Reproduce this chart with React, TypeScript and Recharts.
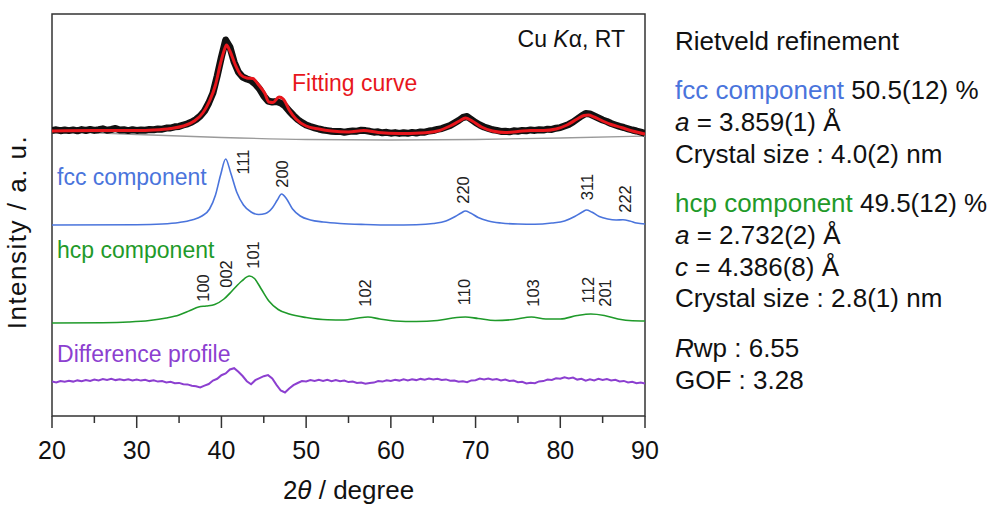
import React from 'react';
import { ComposedChart, Line, XAxis, YAxis, ReferenceDot, ReferenceArea } from 'recharts';

const W = 995;
const H = 505;
const FONT = '"Liberation Sans", Arial, Helvetica, sans-serif';

// measured scan: 2θ = 20° .. 90°, read every 0.5°
const SCAN_START = 20;
const SCAN_STEP = 0.5;

// observed intensity (a.u., relative to the pattern's baseline)
const observed = [
  0.5, 1.2, 0.3, 1.0, 0.4, 1.1, 0.2, 1.4, 0.5, 1.6,
  0.6, 1.3, 2.2, 0.8, 1.5, 2.6, 1.0, 1.2, 0.4, 1.3,
  0.6, 1.1, 0.7, 1.5, 1.2, 2.0, 1.8, 2.9, 3.0, 4.2,
  4.6, 6.0, 7.2, 9.0, 11.5, 15, 20, 28, 38, 55,
  74, 91, 84, 69, 59, 54, 52, 50.5, 47, 42,
  35, 30, 29, 29.5, 28, 25, 20, 15.5, 11.5, 8.5,
  6, 4.5, 3.2, 2.0, 1.0, 0.4, -0.2, -0.6, -0.4, -1.2,
  -0.5, 0.0, -0.2, 0.8, 0.4, -0.3, -1.2, -0.8, -1.8, -1.3,
  -2.2, -1.6, -2.4, -1.7, -2.3, -1.4, -2.0, -1.0, -1.2, 0.0,
  0.5, 1.6, 2.4, 4.0, 5.5, 8.0, 10.5, 13.5, 14.5, 11.5,
  8.5, 6.0, 4.0, 2.6, 1.2, 0.6, -0.4, -0.2, -0.8, 0.2,
  -0.2, 0.6, 0.3, 1.1, 0.6, 1.3, 0.9, 1.8, 1.6, 2.8,
  3.4, 5.0, 6.6, 9.0, 12.0, 15.0, 17.5, 17.0, 15.0, 13.0,
  11.0, 9.5, 7.5, 6.0, 4.6, 3.5, 2.2, 1.0, 0.0, -1.2,
  -2.5,
];

// observed - calculated
const difference = [
  0.5, -0.5, 1.0, 0.2, 1.3, 0.4, 1.6, 0.8, 2.0, 1.1,
  2.4, 1.6, 2.9, 2.0, 3.1, 1.9, 2.8, 1.7, 2.7, 1.5,
  2.5, 1.4, 2.2, 0.9, 1.7, 0.4, 1.0, -0.4, 0.2, -1.2,
  -0.9, -2.3, -2.4, -3.8, -4.3, -5.4, -3.6, -2.0, 1.5, 3.2,
  6.8, 8.5, 12.5, 13.8, 10.2, 6.0, 0.8, -2.2, 1.8, 3.9,
  5.8, 6.9, 3.5, -2.8, -8.5, -10.5, -6.5, -3.2, -1.0, 0.9,
  0.6, 2.0, 1.1, 2.2, 1.0, 2.1, 0.9, 2.0, 0.8, 1.4,
  -0.1, 0.5, -1.0, -0.6, -1.8, -0.9, -0.6, 0.9, 0.4, 1.8,
  1.1, 2.3, 1.4, 2.6, 1.6, 2.8, 1.9, 3.1, 2.2, 3.4,
  2.5, 3.3, 2.0, 2.6, 1.2, 1.5, 0.2, 0.8, -0.2, 1.6,
  1.8, 3.4, 2.6, 3.5, 2.2, 3.0, 1.6, 2.4, 1.0, 1.4,
  -0.2, 0.3, -1.4, -0.8, -1.2, 0.6, 0.9, 2.4, 2.1, 3.8,
  3.2, 4.8, 3.6, 4.4, 2.4, 3.2, 1.3, 2.7, 1.6, 3.2,
  2.0, 3.0, 1.5, 2.2, 0.6, 1.1, -0.5, 0.2, -1.2, -0.6,
  -1.6,
];

// fitted (calculated) profile
const fitTheta = [20, 25, 30, 32, 34, 35.5, 36.8, 37.8, 38.6, 39.3, 39.9, 40.3, 40.6, 41.0, 41.6, 42.3, 43.0, 43.7, 44.4, 45.1, 45.6, 46.1, 46.8, 47.3, 48.0, 48.8, 50, 51.5, 53, 55, 56.8, 58.5, 61, 63.5, 65.5, 67, 68.1, 68.8, 69.6, 70.7, 72, 73.5, 75, 76.5, 78, 79.5, 80.8, 82, 82.8, 83.3, 84, 85, 86, 87.2, 88.5, 90];
const fitI = [0, 0.5, 0.5, 1, 2.5, 5, 10, 18, 30, 46, 68, 80, 86, 80, 67, 56, 53, 52.5, 46, 38, 29, 28.5, 34, 32, 21, 12, 5, 2, 0, -1, 0.5, -1.5, -2.5, -2, 0, 5, 10, 13, 10, 4, 0, -1.5, -0.5, 0.5, 0.5, 2, 6, 12, 15.5, 16, 14, 10, 6.5, 3.5, 0, -3];

// background
const bgTheta = [20, 30, 40, 50, 60, 70, 80, 90];
const bgI = [0, -3.5, -6.5, -8.5, -9, -8.5, -7, -5];

// fcc component
const fccTheta = [20, 30, 33, 35, 36.5, 37.7, 38.6, 39.3, 39.9, 40.5, 41.1, 41.8, 42.6, 43.5, 44.4, 45.2, 46.0, 46.6, 47.1, 47.7, 48.4, 49.3, 50.5, 52, 54, 57, 60, 63, 65, 66.5, 67.6, 68.3, 68.8, 69.4, 70.3, 71.5, 73, 75, 77, 79, 80.5, 81.7, 82.6, 83.1, 83.7, 84.6, 85.6, 86.6, 87.4, 88.2, 89, 90];
const fccI = [0, 0.3, 1, 2.5, 5, 9, 16, 30, 50, 66, 52, 33, 20, 13, 10.5, 11.5, 17, 25, 31, 26, 16, 9, 5, 3, 1.5, 0.5, 0, 0.3, 1.5, 4, 8.5, 12, 14, 12, 7.5, 4, 2, 1, 0.8, 2, 4, 8.5, 13, 15, 13, 8.5, 6, 5, 5.2, 4, 2, 1];

// hcp component
const hcpTheta = [20, 26, 29, 31.5, 33.5, 35, 36.3, 37.3, 38.2, 39.2, 40.3, 41.3, 42.4, 43.3, 43.9, 44.7, 45.6, 46.7, 48, 50, 52.5, 54.5, 56, 57.3, 58.7, 60.5, 63, 65.5, 67.3, 68.8, 70.3, 72.3, 74.5, 76.6, 78.3, 80, 82, 83.6, 85.2, 86.8, 88.5, 90];
const hcpI = [0, 0.3, 1, 2.5, 5, 8, 12.5, 16, 17, 18.5, 24, 32.5, 42, 47, 44.5, 34, 22, 13.5, 9, 5.5, 3.2, 3, 4.8, 6, 4, 2, 1.5, 2.5, 5, 6, 4.5, 2.5, 3.5, 6, 4, 4, 7.5, 9, 7.5, 4, 2.2, 2];

// vertical offsets of the stacked profiles
const OFFSET_OBS = 285;
const OFFSET_FCC = 191;
const OFFSET_HCP = 93;
const OFFSET_DIFF = 34;
const Y_MAX = 402;

// reflection labels: hkl, 2θ of label, height of label centre
const fccHkl = ['111', '200', '220', '311', '222'];
const fccHklAt = [42.55, 47.15, 68.5, 83.15, 87.65];
const fccHklY = [254, 242, 226, 229, 217];
const hcpHkl = ['100', '002', '101', '102', '110', '103', '112', '201'];
const hcpHklAt = [37.85, 40.55, 43.75, 56.95, 68.65, 76.8, 83.25, 85.3];
const hcpHklY = [128, 142, 161, 123, 124, 123, 126, 123];

const xTicks = [20, 25, 30, 35, 40, 45, 50, 55, 60, 65, 70, 75, 80, 85, 90];

const scan = (vals: number[], off: number) =>
  vals.map((v, i) => ({ x: SCAN_START + i * SCAN_STEP, y: off + v }));
const pairs = (t: number[], vals: number[], off: number) =>
  t.map((x, i) => ({ x, y: off + vals[i] }));

const obsData = scan(observed, OFFSET_OBS);
const diffData = scan(difference, OFFSET_DIFF);
const fitData = pairs(fitTheta, fitI, OFFSET_OBS);
const bgData = pairs(bgTheta, bgI, OFFSET_OBS);
const fccData = pairs(fccTheta, fccI, OFFSET_FCC);
const hcpData = pairs(hcpTheta, hcpI, OFFSET_HCP);

const BLUE = '#4a74dc';
const GREEN = '#1f9a2a';
const PURPLE = '#8c3fd0';
const RED = '#e8161c';

function ThetaTick(props: any) {
  const { x, y, payload } = props;
  const major = payload.value % 10 === 0;
  return (
    <g>
      <line x1={x} y1={y} x2={x} y2={y + (major ? 12 : 7)} stroke="#333" strokeWidth={1.5} />
      {major ? (
        <text x={x} y={y + 34} textAnchor="middle" dominantBaseline="central" fontSize={25} fill="#111" fontFamily={FONT}>
          {payload.value}
        </text>
      ) : null}
    </g>
  );
}

function TextShape({ text, color, size = 23, anchor = 'start' }: { text: React.ReactNode; color: string; size?: number; anchor?: string }) {
  return (p: any) => (
    <text x={p.cx} y={p.cy} fill={color} fontSize={size} fontFamily={FONT} textAnchor={anchor} dominantBaseline="central">
      {text}
    </text>
  );
}

function hklShape(label: string) {
  return (p: any) => (
    <text
      x={p.cx}
      y={p.cy}
      transform={`rotate(-90 ${p.cx} ${p.cy})`}
      fill="#222"
      fontSize={16.5}
      fontFamily={FONT}
      textAnchor="middle"
      dominantBaseline="central"
    >
      {label}
    </text>
  );
}

const panelLines: { y: number; node: React.ReactNode }[] = [
  { y: 41, node: <>Rietveld refinement</> },
  { y: 90, node: <><span style={{ color: BLUE }}>fcc component</span> 50.5(12) %</> },
  { y: 122, node: <><i>a</i> = 3.859(1) Å</> },
  { y: 154, node: <>Crystal size : 4.0(2) nm</> },
  { y: 203, node: <><span style={{ color: GREEN }}>hcp component</span> 49.5(12) %</> },
  { y: 235, node: <><i>a</i> = 2.732(2) Å</> },
  { y: 267, node: <><i>c</i> = 4.386(8) Å</> },
  { y: 298, node: <>Crystal size : 2.8(1) nm</> },
  { y: 348, node: <><i>R</i>wp : 6.55</> },
  { y: 380, node: <>GOF : 3.28</> },
];

export default function App() {
  return (
    <div style={{ position: 'absolute', left: 0, top: 0, width: W, height: H, background: '#fff', fontFamily: FONT }}>
      <ComposedChart width={W} height={H} margin={{ top: 14, right: 350, bottom: 9, left: 52 }}>
        <XAxis
          dataKey="x"
          type="number"
          domain={[20, 90]}
          ticks={xTicks}
          interval={0}
          allowDataOverflow
          tickSize={0}
          tickMargin={0}
          tickLine={false}
          axisLine={false}
          tick={<ThetaTick />}
          height={80}
          label={{
            content: (p: any) => {
              const vb = p.viewBox;
              return (
                <text x={vb.x + vb.width / 2} y={vb.y + 74} textAnchor="middle" dominantBaseline="central" fontSize={26} fill="#111" fontFamily={FONT}>
                  2<tspan fontStyle="italic">θ</tspan> / degree
                </text>
              );
            },
          }}
        />
        <YAxis type="number" domain={[0, Y_MAX]} allowDataOverflow width={0} tick={false} tickLine={false} axisLine={false} />
        <ReferenceArea x1={20} x2={90} y1={0} y2={Y_MAX} fill="none" stroke="#333" strokeWidth={1.5} />

        <Line data={bgData} dataKey="y" type="monotone" stroke="#9a9a9a" strokeWidth={1.3} dot={false} isAnimationActive={false} />
        <Line data={obsData} dataKey="y" type="linear" stroke="#111" strokeWidth={7} strokeLinejoin="round" dot={false} isAnimationActive={false} />
        <Line data={fitData} dataKey="y" type="monotone" stroke={RED} strokeWidth={3} dot={false} isAnimationActive={false} />
        <Line data={fccData} dataKey="y" type="monotone" stroke={BLUE} strokeWidth={1.6} dot={false} isAnimationActive={false} />
        <Line data={hcpData} dataKey="y" type="monotone" stroke={GREEN} strokeWidth={1.6} dot={false} isAnimationActive={false} />
        <Line data={diffData} dataKey="y" type="linear" stroke={PURPLE} strokeWidth={2} dot={false} isAnimationActive={false} />

        <ReferenceDot x={87.64} y={377} shape={TextShape({ text: <>Cu <tspan fontStyle="italic">K</tspan>α, RT</>, color: '#111', anchor: 'end' })} />
        <ReferenceDot x={48.33} y={333} shape={TextShape({ text: 'Fitting curve', color: RED })} />
        <ReferenceDot x={20.6} y={239} shape={TextShape({ text: 'fcc component', color: BLUE })} />
        <ReferenceDot x={20.6} y={166} shape={TextShape({ text: 'hcp component', color: GREEN })} />
        <ReferenceDot x={20.6} y={62} shape={TextShape({ text: 'Difference profile', color: PURPLE })} />

        {fccHkl.map((h, i) => (
          <ReferenceDot key={'f' + h} x={fccHklAt[i]} y={fccHklY[i]} shape={hklShape(h)} />
        ))}
        {hcpHkl.map((h, i) => (
          <ReferenceDot key={'h' + h} x={hcpHklAt[i]} y={hcpHklY[i]} shape={hklShape(h)} />
        ))}
      </ComposedChart>

      <div
        style={{
          position: 'absolute',
          left: 17 - 120,
          top: 232 - 16,
          width: 240,
          height: 32,
          lineHeight: '32px',
          textAlign: 'center',
          fontSize: 26,
          letterSpacing: 1.5,
          color: '#111',
          transform: 'rotate(-90deg)',
          whiteSpace: 'nowrap',
        }}
      >
        Intensity / a. u.
      </div>

      {panelLines.map((l, i) => (
        <div
          key={i}
          style={{ position: 'absolute', left: 675, top: l.y - 16, height: 32, lineHeight: '32px', fontSize: 26, color: '#111', whiteSpace: 'nowrap' }}
        >
          {l.node}
        </div>
      ))}
    </div>
  );
}
